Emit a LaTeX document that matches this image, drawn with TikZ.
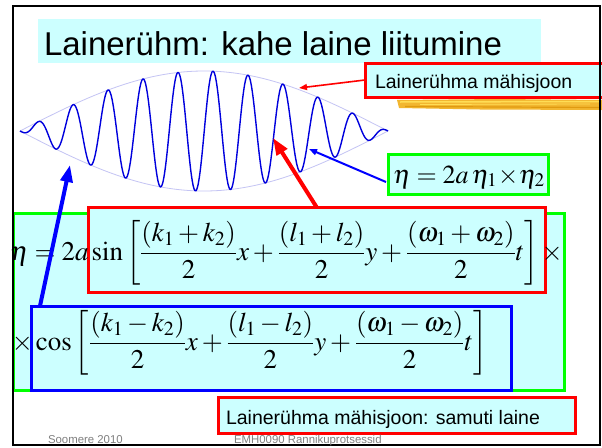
\documentclass[tikz,border=0pt]{standalone}
\usepackage{amsmath}
\usepackage{mathptmx}
\usepackage[no-math]{fontspec}
\setmainfont{Liberation Sans}
\usetikzlibrary{arrows.meta,calc}
\definecolor{cyanfill}{HTML}{CCFFFF}
\definecolor{boxred}{HTML}{FF0000}
\definecolor{boxgreen}{HTML}{00FF00}
\definecolor{boxblue}{HTML}{0000FF}
\definecolor{wavecol}{HTML}{0000DD}
\definecolor{envcol}{HTML}{C4C4F4}
\definecolor{brushA}{HTML}{F2B630}
\definecolor{brushB}{HTML}{FFDD55}
\definecolor{brushC}{HTML}{E09A10}
\definecolor{footgray}{HTML}{808080}
\tikzset{
  panel/.style={fill=cyanfill, inner sep=0pt, outer sep=0pt},
  redbox/.style={panel, draw=boxred, line width=3pt},
  greenbox/.style={panel, draw=boxgreen, line width=3pt},
  bluebox/.style={panel, draw=boxblue, line width=3pt},
  lbl/.style={inner sep=0pt, outer sep=0pt, anchor=base west},
  eqfont/.style={lbl, font=\fontsize{27}{30}\selectfont},
  thickarrow/.style={line width=4pt, -{Triangle[length=17pt,width=12pt]}},
  thinarrow/.style={line width=1.6pt, -{Triangle[length=8pt,width=6pt]}}
}
\begin{document}
\begin{tikzpicture}[x=1pt,y=-1pt]
\useasboundingbox (0,0) rectangle (602,447);
\fill[white] (0,0) rectangle (602,447);

% title
\node[panel, minimum width=503pt, minimum height=44pt, anchor=north west] (titlebox) at (38,19) {};
\node[lbl, font=\fontsize{33}{36}\selectfont] (titletext) at (44,55) {Lainerühm: kahe laine liitumine};

% envelope label box
\fill[brushA] (397,100) -- (500,99) -- (602,100) -- (602,110) -- (480,109.5) -- (399,108) -- cycle;
\draw[brushB, line width=1.5pt] (400,102) -- (600,101.5);
\draw[brushC, line width=1.2pt] (405,106.5) -- (600,107.5);
\draw[brushB, line width=0.8pt] (420,104.5) -- (590,104);
\node[redbox, minimum width=241pt, minimum height=34pt, anchor=north west] (mahis) at (365,63) {};
\node[lbl, font=\fontsize{19.5}{22}\selectfont] (mahistext) at (375,88) {Lainerühma mähisjoon};

% wave group
\draw[envcol, line width=0.8pt] plot[domain=20:388, samples=120] (\x, {131 - 60*cos((\x-204)*0.48913)});
\draw[envcol, line width=0.8pt] plot[domain=20:388, samples=120] (\x, {131 + 60*cos((\x-204)*0.48913)});
\draw[wavecol, line width=1.4pt, line join=round] plot[domain=20:388, samples=700, smooth] (\x, {131 - 60*cos((\x-204)*0.48913)*cos((\x-213)*10.285714)});
\coordinate (envpt) at (299,88);
\coordinate (wavept) at (309,149);
\coordinate (carrierpt) at (273,138);
\coordinate (lowenv) at (70,165);

% eta box
\node[greenbox, minimum width=160pt, minimum height=40pt, anchor=north west] (etabox) at (388,154) {};
\node[lbl, font=\fontsize{26}{28}\selectfont] (etatext) at (393,183) {$\eta = 2a\,\eta_1\!\times\!\eta_2$};

% big formula box
\node[greenbox, minimum width=551pt, minimum height=177pt, anchor=north west] (formula) at (13,213) {};
\node[redbox, minimum width=457pt, minimum height=85pt, anchor=north west] (sinbox) at (88,207) {};
\node[bluebox, minimum width=480pt, minimum height=84pt, anchor=north west] (cosbox) at (31,306) {};
\node[eqfont] (eqone) at (10,260) {$\displaystyle \eta = 2a\sin\left[\frac{(k_1+k_2)}{2}x+\frac{(l_1+l_2)}{2}y+\frac{(\omega_1+\omega_2)}{2}t\right]\times$};
\node[eqfont] (eqtwo) at (12,350) {$\displaystyle \times\cos\left[\frac{(k_1-k_2)}{2}x+\frac{(l_1-l_2)}{2}y+\frac{(\omega_1-\omega_2)}{2}t\right]$};

% bottom note
\node[redbox, minimum width=357pt, minimum height=36pt, anchor=north west] (note) at (218,397) {};
\node[lbl, font=\fontsize{19.5}{22}\selectfont] (notetext) at (226,424) {Lainerühma mähisjoon: samuti laine};

% arrows
\draw[boxred, thinarrow] (mahis.west) -- (envpt);
\draw[boxblue, thinarrow, line width=2pt] ($(etabox.west)+(-2,8)$) -- (wavept);
\draw[boxred, thickarrow] (sinbox.north) -- (carrierpt);
\draw[boxblue, thickarrow] ($(cosbox.north west)+(9,0)$) -- (lowenv);

% slide frame
\draw[black, line width=2.5pt] (13,6) rectangle (600,445);

% footer
\node[lbl, font=\fontsize{11.4}{13}\selectfont, text=footgray] (footleft) at (48,443) {Soomere 2010};
\node[lbl, font=\fontsize{11.4}{13}\selectfont, text=footgray] (footmid) at (234,443) {EMH0090 Rannikuprotsessid};
\end{tikzpicture}
\end{document}
